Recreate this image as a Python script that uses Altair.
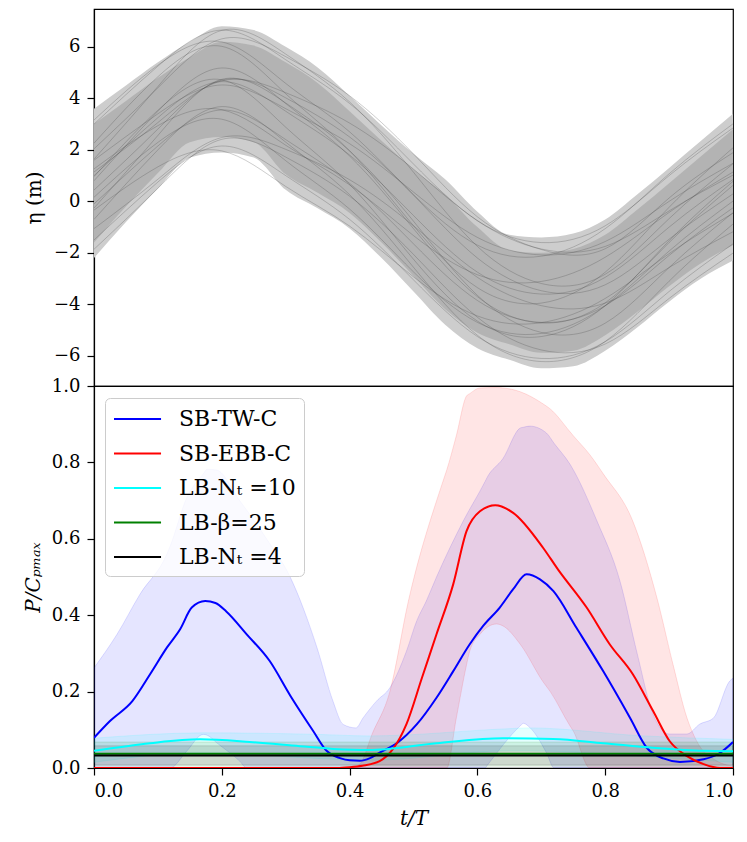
import altair as alt
import pandas as pd

FONT = "DejaVu Serif"

# ---------------- top panel: wave elevation realisations ----------------
ETA_T = [0.0, 0.1, 0.2, 0.3, 0.4, 0.5, 0.6, 0.7, 0.8, 0.9, 1.0]
ETA_LINES = [
    [3.0, 5.25, 6.65, 5.5, 3.8, 1.45, -0.75, -1.6, -0.95, 1.0, 2.85],
    [3.16, 5.29, 6.19, 4.58, 2.7, 0.26, -1.7, -2.13, -1.06, 1.07, 3.01],
    [1.64, 4.46, 6.64, 5.72, 3.86, 1.13, -1.75, -3.19, -2.83, -0.67, 1.46],
    [1.6, 3.4, 4.52, 3.6, 2.24, 0.36, -1.4, -2.08, -1.56, 0.0, 1.48],
    [2.26, 4.84, 6.02, 4.18, 1.96, -0.95, -3.35, -3.95, -2.75, -0.23, 2.08],
    [0.44, 2.81, 4.71, 4.02, 2.5, 0.24, -2.2, -3.47, -3.24, -1.47, 0.29],
    [0.8, 3.5, 5.18, 3.8, 1.76, -1.06, -3.7, -4.72, -3.94, -1.6, 0.62],
    [1.26, 2.94, 3.56, 2.18, 0.64, -1.33, -2.85, -3.11, -2.17, -0.43, 1.14],
    [-0.26, 2.56, 4.74, 3.82, 1.96, -0.77, -3.65, -5.09, -4.73, -2.57, -0.44],
    [-0.1, 2.15, 3.55, 2.4, 0.7, -1.65, -3.85, -4.7, -4.05, -2.1, -0.25],
    [0.16, 2.29, 3.19, 1.58, -0.3, -2.74, -4.7, -5.13, -4.06, -1.93, 0.01],
    [-0.7, 2.0, 3.68, 2.3, 0.26, -2.56, -5.2, -6.22, -5.44, -3.1, -0.88],
    [-1.86, 0.51, 2.41, 1.72, 0.2, -2.06, -4.5, -5.77, -5.54, -3.77, -2.01],
    [-1.5, 0.75, 2.15, 1.0, -0.7, -3.05, -5.25, -6.1, -5.45, -3.5, -1.65],
    [-0.34, 1.34, 1.96, 0.58, -0.96, -2.93, -4.45, -4.71, -3.77, -2.03, -0.46],
    [2.04, 4.41, 6.31, 5.62, 4.1, 1.84, -0.6, -1.87, -1.84, 0.13, 1.89],
    [1.0, 3.25, 4.65, 3.5, 1.8, -0.55, -2.75, -3.6, -2.95, -1.0, 0.85],
    [0.96, 3.54, 4.72, 2.88, 0.66, -2.25, -4.65, -5.25, -4.05, -1.53, 0.78],
    [1.14, 3.06, 4.68, 4.22, 3.04, 1.25, -0.75, -1.85, -1.75, -0.37, 1.02],
    [-1.06, 0.86, 2.48, 2.02, 0.84, -0.95, -2.95, -4.05, -3.95, -2.57, -1.18],
]

ENV_T = [0.0, 0.05, 0.1, 0.15, 0.2, 0.25, 0.3, 0.35, 0.4, 0.45, 0.5,
         0.55, 0.6, 0.65, 0.7, 0.75, 0.8, 0.85, 0.9, 0.95, 1.0]
ENV_TOP = [3.6, 4.5, 5.4, 6.2, 6.8, 6.65, 6.0, 5.2, 4.1, 2.95, 1.85,
           0.85, -0.4, -1.3, -1.4, -1.25, -0.7, 0.27, 1.3, 2.35, 3.4]
ENV_BOT = [-2.2, -0.8, 0.5, 1.7, 1.9, 1.7, 0.45, -0.27, -1.05, -2.2, -3.5,
           -4.8, -5.7, -6.15, -6.48, -6.4, -5.8, -4.9, -3.9, -3.0, -2.3]
# denser core of the bundle
CORE_TOP = [3.0, 3.9, 4.8, 5.6, 6.2, 6.05, 5.4, 4.6, 3.5, 2.35, 1.25,
            0.25, -1.0, -1.9, -2.0, -1.85, -1.3, -0.33, 0.7, 1.75, 2.8]
CORE_BOT = [-1.6, -0.2, 1.1, 2.3, 2.5, 2.3, 1.05, 0.33, -0.45, -1.6, -2.9,
            -4.2, -5.1, -5.55, -5.88, -5.8, -5.2, -4.3, -3.3, -2.4, -1.7]

ETA_TICKS = [-6, -4, -2, 0, 2, 4, 6]

# ---------------- bottom panel: power ----------------
NAMES = ["SB-TW-C", "SB-EBB-C", "LB-N\u209c =10", "LB-\u03b2=25", "LB-N\u209c =4"]
COLORS = ["#0000ff", "#ff0000", "#00ffff", "#008000", "#000000"]

TW_T = [0.0, 0.025, 0.06, 0.088, 0.114, 0.135, 0.153, 0.174, 0.19, 0.207, 0.239,
        0.275, 0.307, 0.343, 0.364, 0.385, 0.40, 0.416, 0.432, 0.447, 0.474, 0.505,
        0.536, 0.562, 0.588, 0.609, 0.635, 0.656, 0.677, 0.698, 0.719, 0.755, 0.797,
        0.839, 0.865, 0.891, 0.917, 0.954, 0.98, 1.0]
TW_P = [0.079, 0.123, 0.175, 0.246, 0.315, 0.364, 0.42, 0.437, 0.432, 0.41, 0.35,
        0.28, 0.19, 0.097, 0.045, 0.026, 0.02, 0.019, 0.026, 0.04, 0.065, 0.114,
        0.184, 0.253, 0.324, 0.372, 0.42, 0.468, 0.507, 0.494, 0.463, 0.367, 0.253,
        0.131, 0.053, 0.025, 0.016, 0.023, 0.04, 0.068]

EBB_T = [0.0, 0.38, 0.40, 0.42, 0.447, 0.468, 0.489, 0.513, 0.536, 0.562, 0.583,
         0.604, 0.628, 0.656, 0.703, 0.726, 0.771, 0.807, 0.843, 0.875, 0.901,
         0.928, 0.954, 0.98, 1.0]
EBB_P = [0.0, 0.0, 0.002, 0.006, 0.018, 0.05, 0.115, 0.235, 0.35, 0.48, 0.62,
         0.672, 0.688, 0.668, 0.576, 0.52, 0.42, 0.324, 0.246, 0.149, 0.07,
         0.031, 0.01, 0.0, 0.0]

N10_T = [0.0, 0.088, 0.166, 0.244, 0.322, 0.374, 0.43, 0.536, 0.64, 0.719, 0.797,
         0.875, 0.954, 1.0]
N10_P = [0.045, 0.065, 0.075, 0.068, 0.057, 0.05, 0.047, 0.065, 0.078, 0.076, 0.065,
         0.053, 0.045, 0.044]

B25_T = [0.0, 1.0]
B25_P = [0.037, 0.037]
N4_T = [0.0, 1.0]
N4_P = [0.033, 0.033]

TWB_T = [0.0, 0.036, 0.072, 0.114, 0.119, 0.145, 0.171, 0.177, 0.192, 0.228, 0.239,
         0.27, 0.307, 0.349, 0.374, 0.39, 0.41, 0.421, 0.442, 0.463, 0.489, 0.505,
         0.52, 0.536, 0.578, 0.612, 0.615, 0.64, 0.667, 0.672, 0.682, 0.708, 0.72,
         0.745, 0.787, 0.823, 0.85, 0.875, 0.9, 0.928, 0.948, 0.969, 0.995, 1.0]
TWB_HI = [0.262, 0.35, 0.455, 0.56, 0.58, 0.707, 0.77, 0.782, 0.78, 0.70, 0.675,
          0.60, 0.50, 0.315, 0.175, 0.114, 0.105, 0.131, 0.175, 0.21, 0.306, 0.385,
          0.437, 0.50, 0.647, 0.75, 0.76, 0.81, 0.89, 0.892, 0.895, 0.877, 0.85,
          0.795, 0.647, 0.49, 0.30, 0.14, 0.089, 0.089, 0.115, 0.13, 0.228, 0.235]
TWB_LO = [0.0, 0.0, 0.0, 0.0, 0.0, 0.044, 0.088, 0.086, 0.066, 0.018, 0.0,
          0.0, 0.0, 0.0, 0.0, 0.0, 0.0, 0.0, 0.0, 0.0, 0.0, 0.0,
          0.0, 0.0, 0.0, 0.0, 0.006, 0.06, 0.11, 0.117, 0.106, 0.04, 0.0,
          0.0, 0.0, 0.0, 0.0, 0.0, 0.0, 0.0, 0.0, 0.0, 0.0, 0.0]

EBBB_T = [0.0, 0.40, 0.416, 0.435, 0.463, 0.492, 0.546, 0.552, 0.567, 0.583, 0.588,
          0.604, 0.63, 0.64, 0.667, 0.703, 0.714, 0.745, 0.75, 0.776, 0.797, 0.843,
          0.881, 0.906, 0.928, 0.943, 0.975, 1.0]
EBBB_HI = [0.0, 0.0, 0.01, 0.088, 0.2, 0.437, 0.75, 0.78, 0.87, 0.974, 0.98,
           0.995, 0.996, 0.995, 0.985, 0.953, 0.94, 0.88, 0.87, 0.82, 0.77, 0.647,
           0.445, 0.272, 0.131, 0.071, 0.018, 0.005]
EBBB_LO = [0.0, 0.0, 0.0, 0.0, 0.0, 0.0, 0.0, 0.0, 0.131, 0.27, 0.306,
           0.35, 0.377, 0.372, 0.324, 0.225, 0.2, 0.11, 0.097, 0.0, 0.0, 0.0,
           0.0, 0.0, 0.0, 0.0, 0.0, 0.0]

N10B_T = [0.0, 0.17, 0.35, 0.43, 0.65, 0.68, 0.86, 1.0]
N10B_HI = [0.078, 0.092, 0.088, 0.084, 0.103, 0.105, 0.084, 0.075]
N10B_LO = [0.015, 0.04, 0.025, 0.02, 0.045, 0.045, 0.03, 0.015]

B25B_T = [0.0, 1.0]
B25B_HI = [0.068, 0.068]
B25B_LO = [0.005, 0.005]

N4B_T = [0.0, 1.0]
N4B_HI = [0.058, 0.058]
N4B_LO = [0.008, 0.008]

P_TICKS = [0.0, 0.2, 0.4, 0.6, 0.8, 1.0]
T_TICKS = [0.0, 0.2, 0.4, 0.6, 0.8, 1.0]

TOP_H = 377
BOT_H = 382
PLOT_W = 639

# ---------------- build tables ----------------
line_rows = []
for i, vals in enumerate(ETA_LINES):
    for t, v in zip(ETA_T, vals):
        line_rows.append({"t": t, "eta": v, "run": i})
eta_df = pd.DataFrame(line_rows)
env_df = pd.DataFrame({"t": ENV_T, "top": ENV_TOP, "bot": ENV_BOT})
core_df = pd.DataFrame({"t": ENV_T, "top": CORE_TOP, "bot": CORE_BOT})

series_lines = [(NAMES[0], TW_T, TW_P), (NAMES[1], EBB_T, EBB_P), (NAMES[2], N10_T, N10_P),
                (NAMES[3], B25_T, B25_P), (NAMES[4], N4_T, N4_P)]
rows = []
for k, (name, ts, ps) in enumerate(series_lines):
    for t, p in zip(ts, ps):
        rows.append({"series": name, "t": t, "p": p, "k": k})
p_df = pd.DataFrame(rows)

series_bands = [(COLORS[0], TWB_T, TWB_LO, TWB_HI), (COLORS[1], EBBB_T, EBBB_LO, EBBB_HI),
                (COLORS[2], N10B_T, N10B_LO, N10B_HI), (COLORS[3], B25B_T, B25B_LO, B25B_HI),
                (COLORS[4], N4B_T, N4B_LO, N4B_HI)]

color_scale = alt.Scale(domain=NAMES, range=COLORS)
x_scale = alt.Scale(domain=[0, 1], nice=False, zero=False)

AX = dict(labelFont=FONT, labelFontSize=18, labelColor="black", labelPadding=7,
          titleFont=FONT, titleFontSize=20, titleFontWeight="normal", titleColor="black",
          tickColor="black", tickSize=7, tickWidth=1.2, domainColor="black", domainWidth=1.2,
          grid=False)

# ---------------- top chart ----------------
eta_scale = alt.Scale(domain=[-7.17, 7.47], nice=False, zero=False)
top_area = alt.Chart(env_df).mark_area(color="#cdcdcd", interpolate="monotone", clip=True).encode(
    x=alt.X("t:Q", scale=x_scale, axis=None),
    y=alt.Y("top:Q", scale=eta_scale,
            axis=alt.Axis(values=ETA_TICKS, format="d", title="\u03b7 (m)", titlePadding=9, **AX)),
    y2="bot:Q",
)
core_area = alt.Chart(core_df).mark_area(color="#b3b3b3", interpolate="monotone", clip=True).encode(
    x=alt.X("t:Q", scale=x_scale, axis=None),
    y=alt.Y("top:Q", scale=eta_scale),
    y2="bot:Q",
)
top_lines = alt.Chart(eta_df).mark_line(interpolate="natural", strokeWidth=0.6, opacity=0.45,
                                        color="#444444", clip=True).encode(
    x=alt.X("t:Q", scale=x_scale, axis=None),
    y=alt.Y("eta:Q", scale=eta_scale),
    detail="run:N",
)
top = alt.layer(top_area, core_area, top_lines).properties(width=PLOT_W, height=TOP_H)

# ---------------- bottom chart ----------------
p_scale = alt.Scale(domain=[0, 1], nice=False, zero=False)
band_layers = []
for col, ts, lo, hi in series_bands:
    bdf = pd.DataFrame({"t": ts, "lo": lo, "hi": hi})
    band_layers.append(
        alt.Chart(bdf).mark_area(color=col, fillOpacity=0.1, stroke=col, strokeOpacity=0.12,
                                 strokeWidth=1, interpolate="monotone", clip=True).encode(
            x=alt.X("t:Q", scale=x_scale),
            y=alt.Y("hi:Q", scale=p_scale),
            y2="lo:Q",
        )
    )

lines = alt.Chart(p_df).mark_line(strokeWidth=2, interpolate="monotone", clip=True).encode(
    x=alt.X("t:Q", scale=x_scale,
            axis=alt.Axis(values=T_TICKS, format=".1f", title="t/T", titleFontStyle="italic",
                          titlePadding=8, **AX)),
    y=alt.Y("p:Q", scale=p_scale,
            axis=alt.Axis(values=P_TICKS, format=".1f", title="P/C\u209a\u2098\u2090\u2093",
                          titleFontStyle="italic", titlePadding=8, **AX)),
    color=alt.Color("series:N", scale=color_scale,
                    legend=alt.Legend(title=None, orient="none", legendX=11, legendY=TOP_H + 12,
                                      symbolType="M-1,0L2.92,0", symbolSize=576,
                                      symbolStrokeWidth=2, labelFont=FONT, labelFontSize=22,
                                      labelColor="black", labelOffset=40, rowPadding=10.5,
                                      padding=8, strokeColor="#cccccc",
                                      fillColor="rgba(255,255,255,0.8)", cornerRadius=5,
                                      labelLimit=300)),
    order="k:Q",
)
bottom = alt.layer(*band_layers, lines).properties(width=PLOT_W, height=BOT_H)

chart = alt.vconcat(top, bottom, spacing=0, bounds="flush").properties(
    padding={"left": 14, "top": 0, "right": 0, "bottom": 0}
).configure(font=FONT).configure_view(stroke="black", strokeWidth=1.2).configure_axis(**AX)

chart.save("out.html", embed_options={"renderer": "svg", "actions": False})
